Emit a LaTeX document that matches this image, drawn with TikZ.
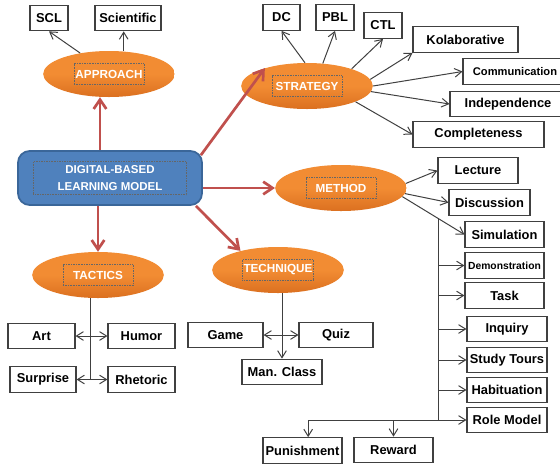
\documentclass[tikz,border=0pt]{standalone}
\usepackage{fontspec}
\setmainfont{Liberation Sans}
\usetikzlibrary{arrows.meta,calc,shapes.geometric}
\definecolor{mdlBlue}{HTML}{4F81BD}
\definecolor{mdlBlueDk}{HTML}{3A6699}
\definecolor{mdlOrange}{HTML}{F28C33}
\definecolor{mdlOrangeDk}{HTML}{DB7020}
\definecolor{mdlRed}{HTML}{C0504D}

\begin{document}
\begin{tikzpicture}[x=0.03cm, y=-0.03cm, font=\bfseries\fontsize{11}{13}\selectfont,
  >={Straight Barb[length=2.1mm,width=2.6mm]},
  bx/.style={draw=black!75, line width=0.9pt, fill=white, inner sep=0pt, minimum height=0.77cm, minimum width=#1*0.03cm},
  ov/.style={ellipse, inner sep=0pt, top color=mdlOrange, bottom color=mdlOrangeDk, middle color=mdlOrange, minimum width=3.95cm, minimum height=1.38cm},
  tf/.style={draw=black!60, densely dotted, text=white, inner sep=1pt, minimum width=2.1cm, minimum height=0.63cm, font=\bfseries\fontsize{10}{12}\selectfont},
  ln/.style={draw=black!75, line width=0.85pt, ->},
  lnp/.style={draw=black!75, line width=0.85pt},
  rd/.style={draw=mdlRed, line width=2.3pt, -{Straight Barb[length=2.8mm,width=3.8mm]}}]
\useasboundingbox (0,0) rectangle (560,466);
\clip (0,0) rectangle (560,466);

% centre
\node[draw=mdlBlueDk, line width=1.5pt, fill=mdlBlue, rounded corners=0.35cm, minimum width=5.52cm, minimum height=1.62cm,
  label={[tf, minimum width=4.59cm, minimum height=0.99cm, align=center, font=\bfseries\fontsize{9.8}{14.5}\selectfont]center:DIGITAL-BASED\\LEARNING MODEL}] (Mn) at (110,178) {};

\node[ov, label={[tf]center:APPROACH}] (Ap) at (109,74) {};
\node[ov, label={[tf]center:STRATEGY}] (St) at (307,86) {};
\node[ov, label={[tf]center:METHOD}] (Me) at (341,188) {};
\node[ov, label={[tf]center:TACTICS}] (Ta) at (98,275) {};
\node[ov, label={[tf]center:TECHNIQUE}] (Te) at (278,270) {};

% approach
\node[bx=38] (SCL) at (49,18) {SCL};
\node[bx=66] (Sci) at (128,18) {Scientific};
% strategy
\node[bx=37] (DC) at (281.5,17.5) {DC};
\node[bx=38] (PBL) at (335,17.5) {PBL};
\node[bx=38] (CTL) at (383,25.5) {CTL};
\node[bx=105] (Kol) at (465.5,39.5) {Kolaborative};
\node[bx=104, font=\bfseries\fontsize{9.5}{11}\selectfont] (Com) at (515,71.5) {Communication};
\node[bx=116] (Ind) at (508,104) {Independence};
\node[bx=131] (Cmp) at (478.5,134.5) {Completeness};
% method
\node[bx=80] (Lec) at (478,170.5) {Lecture};
\node[bx=81] (Dis) at (489.5,202.5) {Discussion};
\node[bx=79] (Sim) at (504.5,234.5) {Simulation};
\node[bx=79, font=\bfseries\fontsize{8.8}{10}\selectfont] (Dem) at (504.5,265.5) {Demonstration};
\node[bx=79] (Tsk) at (504.5,295.5) {Task};
\node[bx=80] (Inq) at (507,329) {Inquiry};
\node[bx=80] (StT) at (507,360) {Study Tours};
\node[bx=80] (Hab) at (507,390) {Habituation};
\node[bx=80] (RoM) at (507,420) {Role Model};
\node[bx=79] (Pun) at (302.5,450.5) {Punishment};
\node[bx=79] (Rew) at (393.5,450) {Reward};
% tactics
\node[bx=67] (Art) at (41.5,336) {Art};
\node[bx=67] (Hum) at (141.5,336) {Humor};
\node[bx=66] (Sur) at (43,379.5) {Surprise};
\node[bx=67] (Rhe) at (141.5,379.5) {Rhetoric};
% technique
\node[bx=75] (Gam) at (225.5,335) {Game};
\node[bx=74] (Qui) at (336,335) {Quiz};
\node[bx=80] (MCl) at (282,372) {Man. Class};

\draw[ln] (Ap.144) -- (SCL.south);
\draw[ln] (Ap.57) -- (Ap.57 |- Sci.south);

\draw[ln] (St.95) -- (DC.south);
\draw[ln] (St.55) -- (PBL.south);
\draw[ln] (St.21) -- (CTL.south);
\draw[ln] (St.6) -- (Kol.south west);
\draw[ln] (St.0) -- (Com.west);
\draw[ln] (St.-5) -- (Ind.west);
\draw[ln] (St.-18) -- (Cmp.west);

\draw[ln] (Me.4) -- (Lec.west);
\draw[ln] (Me.-5) -- (Dis.west);
\draw[ln] (Me.-8) -- coordinate[pos=0.585] (Tr) (Sim.west);
\draw[ln] (Tr) |- (RoM.west);
\foreach \b in {Dem,Tsk,Inq,StT,Hab}
  \draw[ln] (Tr |- \b.west) -- (\b.west);
\draw[ln] (Tr |- RoM.west) -| ([xshift=0.17cm]Pun.north);
\draw[ln] (Rew.north |- RoM.west) -- (Rew.north);

\coordinate (TaB) at ($(Ta.south)+(-8,0)$);
\draw[lnp] (TaB) -- (TaB |- Sur.east);
\draw[ln, <->] (Art.east) -- (Hum.west);
\draw[ln, <->] (Sur.east) -- (Rhe.west);

\draw[ln] (Te.south -| MCl.north) -- (MCl.north);
\draw[ln, <->] (Gam.east) -- (Qui.west);

% red links
\draw[rd] ([xshift=-0.3cm]Mn.north) -- ([xshift=-0.27cm]Ap.south);
\draw[rd] ($(Mn.north east)+(-2,5)$) -- (St.157);
\draw[rd] (Mn.east |- Me.west) -- (Me.west);
\draw[rd] ($(Mn.south east)+(-7,0)$) -- (Te.153);
\draw[rd] (Mn.south -| Ta.north) -- (Ta.north);
\end{tikzpicture}
\end{document}
